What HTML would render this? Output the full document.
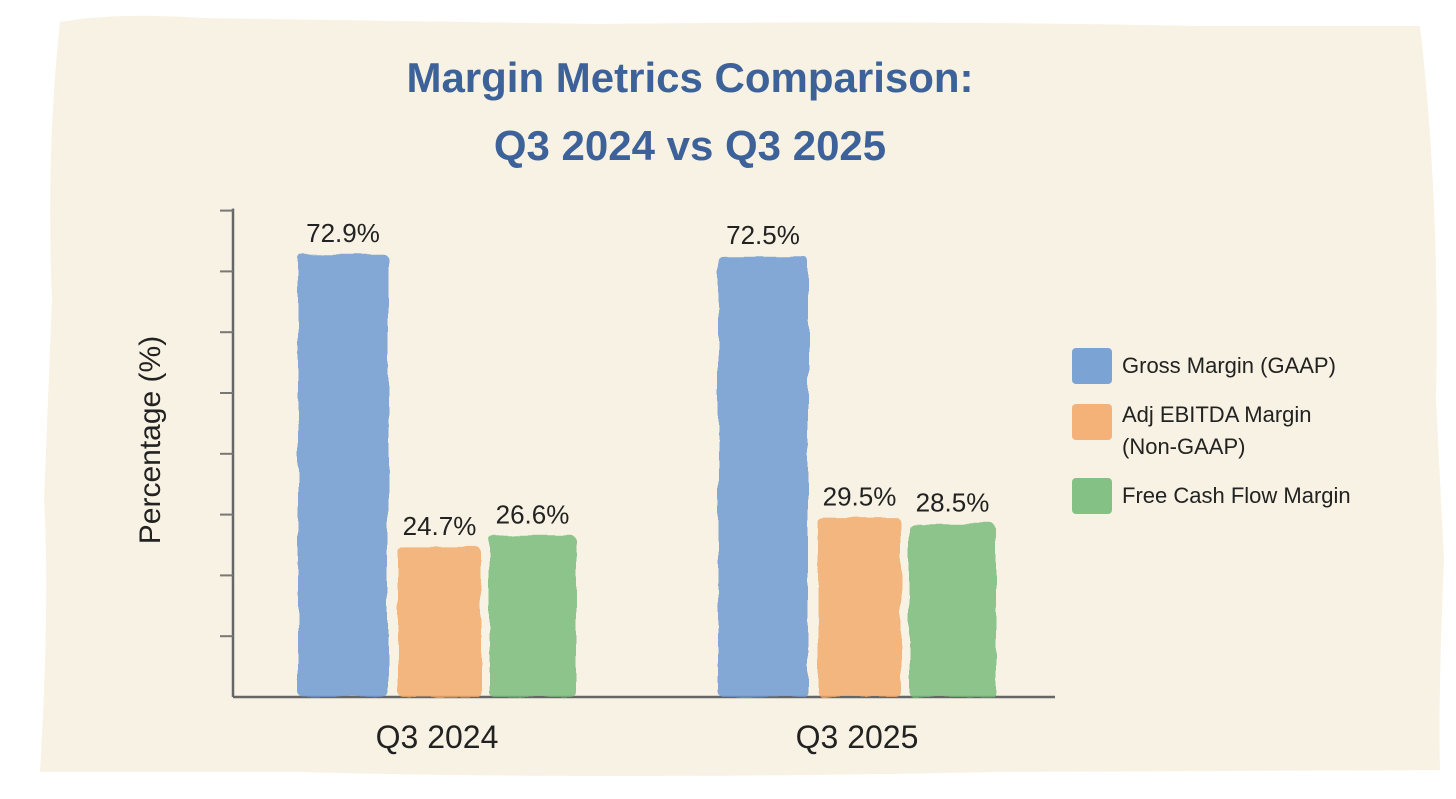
<!DOCTYPE html>
<html><head><meta charset="utf-8"><style>
html,body{margin:0;padding:0;background:#fff;}
body{width:1456px;height:794px;overflow:hidden;position:relative;font-family:"Liberation Sans","DejaVu Sans",sans-serif;}
</style></head><body>
<svg width="1456" height="794" xmlns="http://www.w3.org/2000/svg">
<defs>
<filter id="wc"><feTurbulence type="fractalNoise" baseFrequency="0.03" numOctaves="3" seed="3"/><feDisplacementMap in="SourceGraphic" scale="6"/></filter>
</defs>
<path d="M60,22 Q120,12 200,18 L600,24 Q900,20 1200,26 L1420,26 Q1440,200 1436,400 L1444,560 Q1438,700 1440,770 L1000,772 Q600,780 300,772 L40,772 Q50,600 44,500 L52,300 Q46,150 60,22 Z" fill="#f7f2e3"/>
<g fill="#3d6299" font-size="42" font-weight="bold" text-anchor="middle" font-family="'Liberation Sans',sans-serif">
<text x="690" y="92">Margin Metrics Comparison:</text>
<text x="690" y="160">Q3 2024 vs Q3 2025</text>
</g>
<g id="axes"></g>
<g id="bars"></g>
<text transform="translate(160,440) rotate(-90)" font-size="30" text-anchor="middle" fill="#222">Percentage (%)</text>
<g font-size="22" fill="#222">
<rect x="1072" y="348" width="40" height="36" rx="4" fill="#5b8fcf" opacity="0.8"/>
<text x="1122" y="373">Gross Margin (GAAP)</text>
<rect x="1072" y="404" width="40" height="36" rx="4" fill="#f2a15c" opacity="0.8"/>
<text x="1122" y="422">Adj EBITDA Margin</text>
<text x="1122" y="454">(Non-GAAP)</text>
<rect x="1072" y="478" width="40" height="36" rx="4" fill="#66b46c" opacity="0.8"/>
<text x="1122" y="503">Free Cash Flow Margin</text>
</g>
</svg>
<script>
const categories=["Q3 2024","Q3 2025"];
const grossMargin=[72.9,72.5];
const ebitdaMargin=[24.7,29.5];
const fcfMargin=[26.6,28.5];
const yTicks=[0,10,20,30,40,50,60,70,80];
const NS="http://www.w3.org/2000/svg";
const y0=697,pxPer=6.08;
function y(v){return y0-v*pxPer;}
const groupX=[298,718];
const offs=[0,100,191],widths=[90,83,87];
const colors=["#6796d2","#f3a866","#72b977"];
const series=[grossMargin,ebitdaMargin,fcfMargin];
const names=["gross","ebitda","fcf"];
function mk(tag,attrs,parent){const e=document.createElementNS(NS,tag);for(const k in attrs)e.setAttribute(k,attrs[k]);parent.appendChild(e);return e;}
const axes=document.getElementById('axes');
let yl=mk('line',{x1:233,y1:y(yTicks[yTicks.length-1])-2,x2:233,y2:y0,stroke:"#666","stroke-width":2.5},axes);


let xl=mk('line',{x1:233,y1:y0,x2:1055,y2:y0,stroke:"#666","stroke-width":2.5},axes);


yTicks.forEach(t=>{if(t===0)return;const l=mk('line',{x1:220,y1:y(t),x2:233,y2:y(t),stroke:"#777","stroke-width":2},axes);

});
const bars=document.getElementById('bars');
categories.forEach((c,i)=>{
 series.forEach((s,j)=>{
  const x=groupX[i]+offs[j],w=widths[j],top=y(s[i]);
  const r=mk('rect',{x:x,y:top,width:w,height:y0-top,rx:5,fill:colors[j],opacity:0.8,filter:"url(#wc)"},bars);
  
  
  const t=mk('text',{x:x+w/2,y:top-12,"text-anchor":"middle","font-size":26,fill:"#222"},bars);
  t.textContent=s[i].toFixed(1)+"%";
  
  
 });
 const cx=groupX[i]+(offs[2]+widths[2])/2;
 const ct=mk('text',{x:cx,y:748,"text-anchor":"middle","font-size":32,fill:"#222"},bars);
 ct.textContent=c;
 
 
});
</script>
</body></html>
